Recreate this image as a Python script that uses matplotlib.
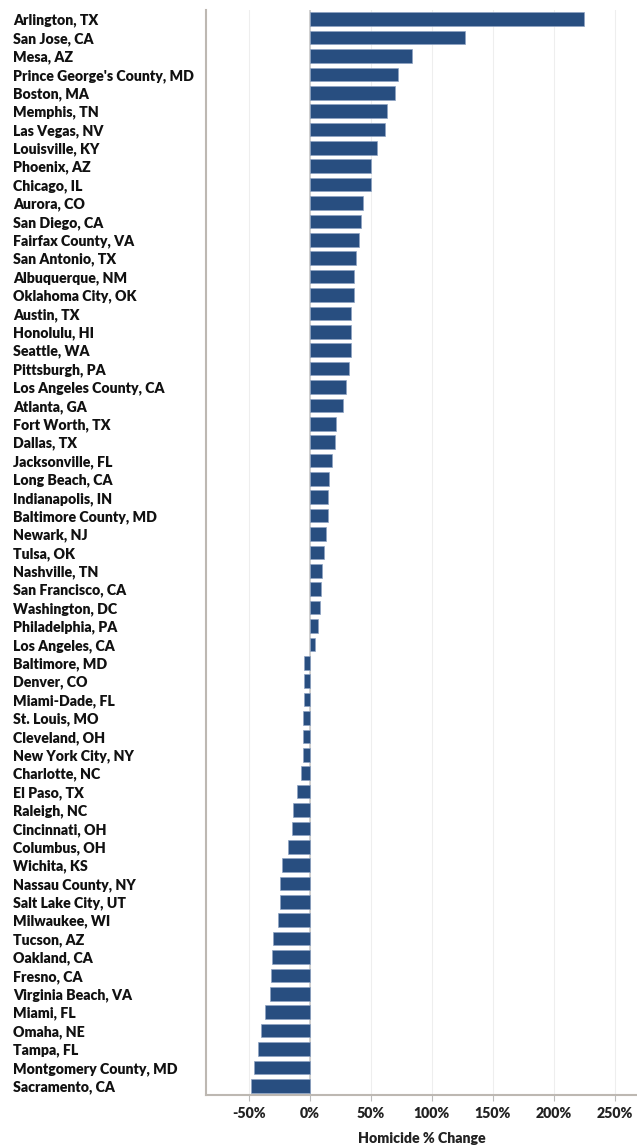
import matplotlib.pyplot as plt
from matplotlib.ticker import FuncFormatter

plt.rcParams['font.family'] = ['Lato', 'DejaVu Sans']

cities = [
    "Arlington, TX", "San Jose, CA", "Mesa, AZ", "Prince George's County, MD",
    "Boston, MA", "Memphis, TN", "Las Vegas, NV", "Louisville, KY", "Phoenix, AZ",
    "Chicago, IL", "Aurora, CO", "San Diego, CA", "Fairfax County, VA",
    "San Antonio, TX", "Albuquerque, NM", "Oklahoma City, OK", "Austin, TX",
    "Honolulu, HI", "Seattle, WA", "Pittsburgh, PA", "Los Angeles County, CA",
    "Atlanta, GA", "Fort Worth, TX", "Dallas, TX", "Jacksonville, FL",
    "Long Beach, CA", "Indianapolis, IN", "Baltimore County, MD", "Newark, NJ",
    "Tulsa, OK", "Nashville, TN", "San Francisco, CA", "Washington, DC",
    "Philadelphia, PA", "Los Angeles, CA", "Baltimore, MD", "Denver, CO",
    "Miami-Dade, FL", "St. Louis, MO", "Cleveland, OH", "New York City, NY",
    "Charlotte, NC", "El Paso, TX", "Raleigh, NC", "Cincinnati, OH",
    "Columbus, OH", "Wichita, KS", "Nassau County, NY", "Salt Lake City, UT",
    "Milwaukee, WI", "Tucson, AZ", "Oakland, CA", "Fresno, CA",
    "Virginia Beach, VA", "Miami, FL", "Omaha, NE", "Tampa, FL",
    "Montgomery County, MD", "Sacramento, CA",
]

pct_change = [
    225.0, 127.4, 83.6, 71.9, 69.7, 63.1, 61.2, 54.7, 50.3, 50.3,
    43.4, 41.8, 40.7, 37.5, 36.4, 36.4, 33.6, 33.6, 33.6, 32.0,
    29.8, 27.0, 21.6, 20.5, 18.6, 15.9, 15.3, 14.8, 13.1, 11.5,
    9.8, 8.8, 8.2, 6.6, 4.4, -4.6, -4.6, -4.6, -5.2, -5.7,
    -5.7, -6.8, -10.6, -13.6, -14.4, -18.0, -22.4, -24.6, -24.6, -25.7,
    -30.3, -31.1, -31.7, -32.5, -36.9, -39.6, -42.3, -46.1, -47.8,
]

x_ticks = [-50, 0, 50, 100, 150, 200, 250]

fig = plt.figure(figsize=(6.37, 11.45), dpi=100)
ax = fig.add_axes([0.3234, 0.0437, 0.6766, 0.9476])

pos = range(len(cities))
ax.barh(pos, pct_change, height=0.74, color='#284e80',
        edgecolor='#8ea3c3', linewidth=0.5, zorder=3)

ax.set_ylim(len(cities) - 0.5, -0.5)
ax.set_xlim(-85, 268)

ax.set_yticks(list(pos))
ax.set_yticklabels(cities, fontsize=10.2, fontweight='heavy', color='#111111')
for lab in ax.get_yticklabels():
    lab.set_horizontalalignment('left')
ax.tick_params(axis='y', length=0, pad=139)

ax.set_xticks(x_ticks)
ax.xaxis.set_major_formatter(FuncFormatter(lambda v, p: f"{v:.0f}%"))
ax.tick_params(axis='x', labelsize=10.2, colors='#bbbbbb', length=4, width=0.8, pad=5)
for lab in ax.get_xticklabels():
    lab.set_color('#222222')
    lab.set_fontweight('heavy')

ax.grid(axis='x', color='#eeeeee', linewidth=0.8, zorder=0)
ax.axvline(0, color='#c8c8c8', linewidth=1.2, zorder=2)

for side in ['top', 'right']:
    ax.spines[side].set_visible(False)
for side in ['left', 'bottom']:
    ax.spines[side].set_color('#bdb8b2')
    ax.spines[side].set_linewidth(1.5)

ax.set_xlabel('Homicide % Change', fontsize=10.2, fontweight='heavy', color='#222222', labelpad=8)

fig.savefig('out.png', dpi=100)
